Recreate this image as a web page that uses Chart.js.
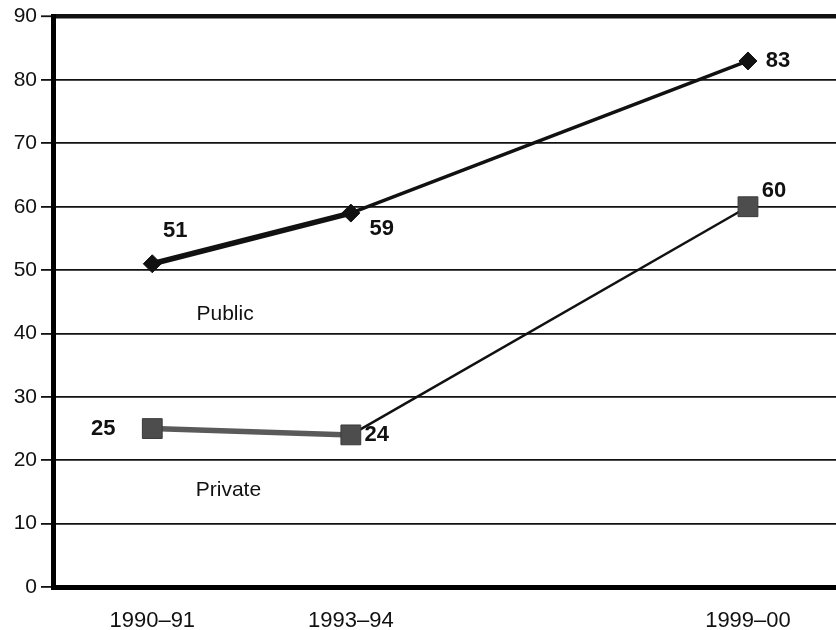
<!DOCTYPE html>
<html lang="en">
  <head>
    <meta charset="UTF-8" />
    <title>Public vs Private</title>
    <script src="https://cdn.jsdelivr.net/npm/chart.js"></script>
    <style>
      body {
        margin: 0;
        background: #fff;
      }
      .chart-container {
        width: 836px;
        height: 630px;
      }
    </style>
  </head>
  <body>
    <div class="chart-container">
      <canvas id="lineChart"></canvas>
    </div>

    <script>
      // school years, placed on a year scale by their start (mid-year)
      const yearLabels = ["1990\u201391", "1993\u201394", "1999\u201300"];
      const yearPositions = [1990.5, 1993.5, 1999.5];
      const publicValues = [51, 59, 83];
      const privateValues = [25, 24, 60];
      const yTicks = [0, 10, 20, 30, 40, 50, 60, 70, 80, 90];

      const toPoints = (vals) =>
        vals.map((v, i) => ({ x: yearPositions[i], y: v }));

      // value labels next to each point (offsets in px)
      const publicOffsets = [[23, -33], [31, 16], [30, 0]];
      const privateOffsets = [[-49, 0], [26, 0], [26, -16]];

      const FONT = "'Liberation Sans', Arial, sans-serif";

      const labelPlugin = {
        id: "pointLabels",
        afterDatasetsDraw(chart) {
          const ctx = chart.ctx;
          const xs = chart.scales.x;
          const ys = chart.scales.y;
          ctx.save();
          ctx.fillStyle = "#111";
          ctx.textAlign = "center";
          ctx.textBaseline = "middle";
          ctx.font = "bold 22px " + FONT;
          [
            [publicValues, publicOffsets],
            [privateValues, privateOffsets],
          ].forEach(([vals, offs]) => {
            vals.forEach((v, i) => {
              const px = xs.getPixelForValue(yearPositions[i]);
              const py = ys.getPixelForValue(v);
              ctx.fillText(String(v), px + offs[i][0], py + offs[i][1]);
            });
          });
          // series names
          ctx.font = "21px " + FONT;
          ctx.fillText("Public", xs.getPixelForValue(1991.6), ys.getPixelForValue(43));
          ctx.fillText("Private", xs.getPixelForValue(1991.65), ys.getPixelForValue(15.3));
          ctx.restore();
        },
      };

      new Chart(document.getElementById("lineChart"), {
        type: "line",
        data: {
          datasets: [
            {
              label: "Public",
              data: toPoints(publicValues),
              borderColor: "#111",
              pointStyle: "rectRot",
              pointRadius: 9,
              pointBackgroundColor: "#111",
              pointBorderColor: "#111",
              segment: {
                borderWidth: (c) => (c.p0DataIndex === 0 ? 5.5 : 3.5),
              },
            },
            {
              label: "Private",
              data: toPoints(privateValues),
              borderColor: "#111",
              pointStyle: "rect",
              pointRadius: 14,
              pointBackgroundColor: "#4d4d4d",
              pointBorderColor: "#3a3a3a",
              pointBorderWidth: 1,
              segment: {
                borderColor: (c) => (c.p0DataIndex === 0 ? "#5a5a5a" : "#111"),
                borderWidth: (c) => (c.p0DataIndex === 0 ? 5.5 : 2.5),
              },
            },
          ],
        },
        options: {
          responsive: true,
          maintainAspectRatio: false,
          animation: false,
          layout: {
            autoPadding: false,
            padding: { top: 15, right: 0, left: 0, bottom: 0 },
          },
          plugins: {
            legend: { display: false },
            tooltip: { enabled: false },
          },
          scales: {
            x: {
              type: "linear",
              min: 1989,
              max: 2000.83,
              afterBuildTicks: (scale) => {
                scale.ticks = yearPositions.map((p) => ({ value: p }));
              },
              afterFit: (scale) => {
                scale.height = 43;
                scale.paddingLeft = 0;
                scale.paddingRight = 0;
              },
              grid: { display: false, drawTicks: false },
              border: { display: true, color: "#000", width: 5 },
              ticks: {
                padding: 21,
                color: "#111",
                font: { family: FONT, size: 22 },
                callback: (v) => yearLabels[yearPositions.indexOf(v)],
                maxRotation: 0,
              },
            },
            y: {
              min: 0,
              max: 90,
              afterBuildTicks: (scale) => {
                scale.ticks = yTicks.map((v) => ({ value: v }));
              },
              afterFit: (scale) => {
                scale.width = 53;
              },
              grid: {
                color: "#111",
                lineWidth: (c) => (c.tick && c.tick.value === 90 ? 4.5 : 1.8),
                tickLength: 12,
                tickColor: "#111",
                tickWidth: 1.8,
              },
              border: { display: true, color: "#000", width: 5 },
              ticks: {
                padding: 4,
                color: "#111",
                font: { family: FONT, size: 21 },
              },
            },
          },
        },
        plugins: [labelPlugin],
      });
    </script>
  </body>
</html>
